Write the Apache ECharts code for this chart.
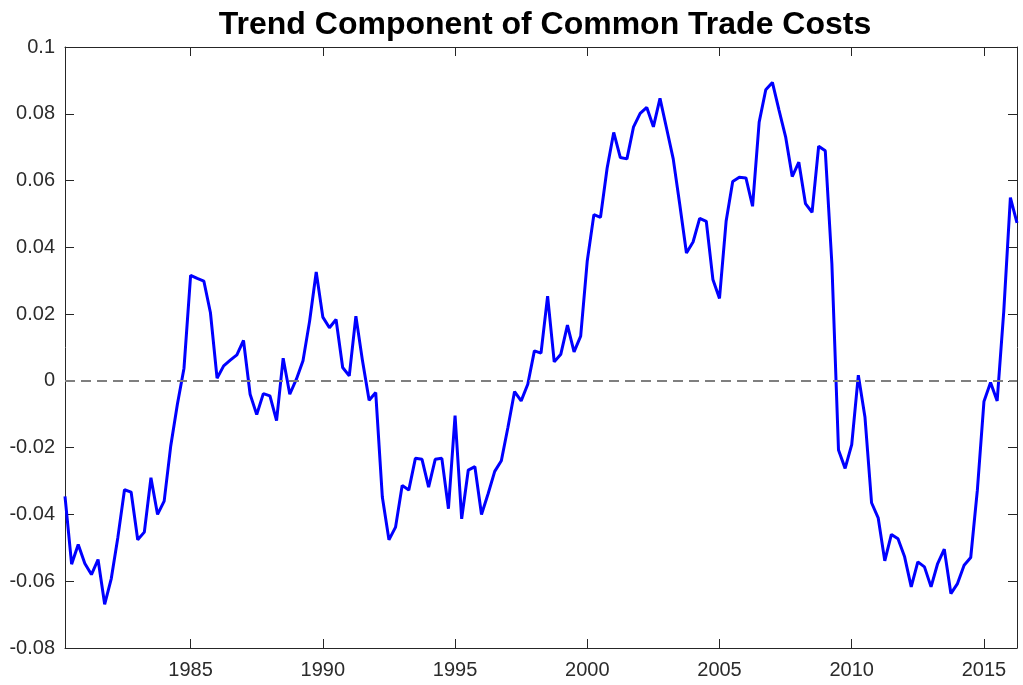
<!DOCTYPE html>
<html lang="en">

<head>
    <meta charset="UTF-8">
    <title>Trend Component of Common Trade Costs</title>
    <script src="https://cdn.jsdelivr.net/npm/echarts@6/dist/echarts.min.js"></script>
    <style>
        html,
        body {
            margin: 0px;
            padding: 0px;
            height: 100%;
            overflow: hidden;
            background-color: #fff;
        }

        #trendContainer {
            width: 1023px;
            height: 685px;
        }
    </style>
</head>

<body>
    <div id="trendContainer"></div>
    <script>
        // quarterly series, first point 1980.25, last 2016.25
        var firstQuarter = 1980.25;
        var lastQuarter = 2016.25;
        var yearTicks = [1985, 1990, 1995, 2000, 2005, 2010, 2015];
        var trend = [
            -0.0346, -0.0549, -0.0490, -0.0547, -0.0580, -0.0535, -0.0669, -0.0592,
            -0.0468, -0.0326, -0.0333, -0.0476, -0.0453, -0.0290, -0.0400, -0.0360,
            -0.0194, -0.0070, 0.0038, 0.0316, 0.0307, 0.0299, 0.0204, 0.0008,
            0.0045, 0.0062, 0.0078, 0.0121, -0.0040, -0.0101, -0.0038, -0.0045,
            -0.0119, 0.0068, -0.0040, 0.0005, 0.0060, 0.0179, 0.0326, 0.0191,
            0.0159, 0.0184, 0.0040, 0.0015, 0.0194, 0.0060, -0.0058, -0.0035,
            -0.0348, -0.0476, -0.0438, -0.0313, -0.0327, -0.0232, -0.0235, -0.0318,
            -0.0235, -0.0232, -0.0383, -0.0104, -0.0413, -0.0267, -0.0257, -0.0400,
            -0.0338, -0.0271, -0.0239, -0.0139, -0.0032, -0.0060, -0.0010, 0.0090,
            0.0083, 0.0254, 0.0057, 0.0080, 0.0167, 0.0087, 0.0134, 0.0360,
            0.0498, 0.0490, 0.0637, 0.0744, 0.0669, 0.0665, 0.0761, 0.0801,
            0.0819, 0.0761, 0.0846, 0.0756, 0.0665, 0.0527, 0.0383, 0.0416,
            0.0487, 0.0478, 0.0304, 0.0247, 0.0478, 0.0597, 0.0610, 0.0608,
            0.0523, 0.0775, 0.0872, 0.0894, 0.0811, 0.0731, 0.0612, 0.0655,
            0.0531, 0.0505, 0.0703, 0.0689, 0.0350, -0.0207, -0.0262, -0.0191,
            0.0017, -0.0108, -0.0365, -0.0410, -0.0539, -0.0460, -0.0473, -0.0527,
            -0.0617, -0.0542, -0.0557, -0.0617, -0.0547, -0.0504, -0.0637, -0.0607,
            -0.0552, -0.0529, -0.0328, -0.0062, -0.0005, -0.0060, 0.0209, 0.0549,
            0.0473
        ];

        var trendData = trend.map(function (v, i) {
            return [firstQuarter + i * 0.25, v];
        });

        var axisColor = '#262626';
        var labelFont = {
            color: '#2b2b2b',
            fontFamily: 'Liberation Sans, Arial, sans-serif',
            fontSize: 20
        };

        function xAxisOf(position, showLabel) {
            return {
                type: 'value',
                position: position,
                min: firstQuarter,
                max: lastQuarter,
                splitNumber: 7,
                splitLine: { show: false },
                axisLine: { show: true, onZero: false, lineStyle: { color: axisColor, width: 1 } },
                axisTick: {
                    show: true,
                    inside: true,
                    length: 9,
                    lineStyle: { color: axisColor },
                    customValues: yearTicks
                },
                axisLabel: {
                    show: showLabel,
                    margin: 12,
                    customValues: yearTicks,
                    formatter: function (v) { return String(v); },
                    color: labelFont.color,
                    fontFamily: labelFont.fontFamily,
                    fontSize: labelFont.fontSize
                }
            };
        }

        function yAxisOf(position, showLabel) {
            return {
                type: 'value',
                position: position,
                min: -0.08,
                max: 0.1,
                interval: 0.02,
                splitLine: { show: false },
                axisLine: { show: true, onZero: false, lineStyle: { color: axisColor, width: 1 } },
                axisTick: { show: true, inside: true, length: 9, lineStyle: { color: axisColor } },
                axisLabel: {
                    show: showLabel,
                    margin: 10,
                    formatter: function (v) { return String(Math.round(v * 100) / 100); },
                    color: labelFont.color,
                    fontFamily: labelFont.fontFamily,
                    fontSize: labelFont.fontSize
                }
            };
        }

        var chart = echarts.init(document.getElementById('trendContainer'));
        var option = {
            backgroundColor: '#fff',
            animation: false,
            title: {
                text: 'Trend Component of Common Trade Costs',
                left: 540,
                textAlign: 'center',
                top: 4,
                textStyle: {
                    color: '#000',
                    fontFamily: 'Liberation Sans, Arial, sans-serif',
                    fontWeight: 'bold',
                    fontSize: 32
                }
            },
            grid: {
                left: 65,
                right: 6,
                top: 47,
                bottom: 37
            },
            xAxis: [xAxisOf('bottom', true), xAxisOf('top', false)],
            yAxis: [yAxisOf('left', true), yAxisOf('right', false)],
            series: [{
                name: 'trend',
                type: 'line',
                xAxisIndex: 0,
                yAxisIndex: 0,
                data: trendData,
                showSymbol: false,
                symbol: 'none',
                lineStyle: { color: '#0000ff', width: 3 },
                markLine: {
                    silent: true,
                    symbol: 'none',
                    label: { show: false },
                    lineStyle: { color: '#7f7f7f', type: [10, 6], width: 2 },
                    data: [{ yAxis: 0 }]
                },
                z: 3
            }]
        };
        chart.setOption(option);
    </script>
</body>

</html>
